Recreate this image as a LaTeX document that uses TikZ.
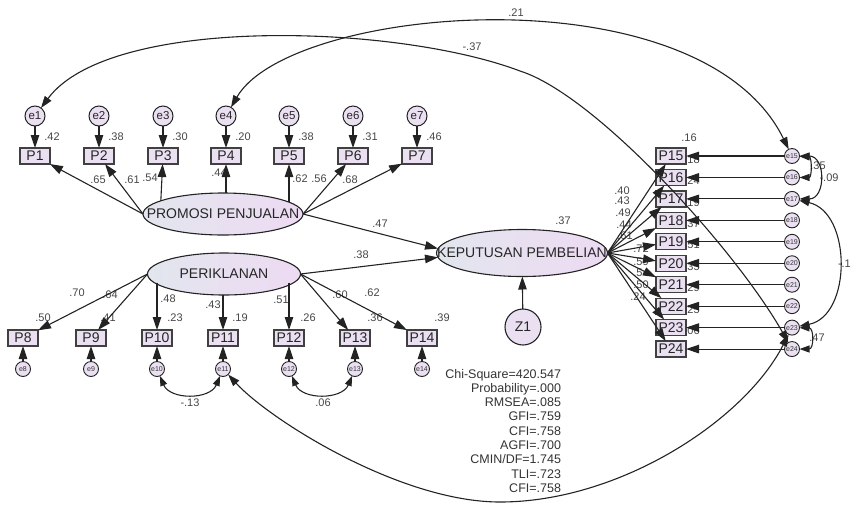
\documentclass[tikz,border=0pt]{standalone}
\usepackage{fontspec}
\setmainfont{Liberation Sans}
\usetikzlibrary{arrows.meta,shapes.geometric}
\definecolor{boxfill}{RGB}{234,224,242}
\definecolor{linegray}{RGB}{35,35,35}
\definecolor{numgray}{RGB}{70,70,70}
\definecolor{latleft}{RGB}{226,230,238}
\definecolor{latright}{RGB}{238,218,243}

\begin{document}
\begin{tikzpicture}[x=1pt,y=-1pt,
  every node/.style={inner sep=0pt, outer sep=0pt},
  obs/.style={draw=black!75, line width=1.3pt, fill=boxfill, minimum width=30pt,
    minimum height=16pt, font=\fontsize{14}{14}\selectfont, text=black!85},
  errbig/.style={circle, draw=linegray, line width=1pt, fill=boxfill,
    minimum size=20pt, font=\fontsize{11.5}{12}\selectfont, text=black!85},
  errsm/.style={circle, draw=linegray, line width=0.9pt, fill=boxfill,
    minimum size=15pt, font=\fontsize{7}{7}\selectfont, text=black!80},
  latlabel/.style={font=\fontsize{14}{14}\selectfont, text=black!85},
  lat/.style={ellipse, draw=linegray, line width=1.1pt, left color=latleft,
    right color=latright, label={[latlabel]center:#1}},
  numlbl/.style={font=\fontsize{11}{11}\selectfont, text=numgray},
  fitlbl/.style={align=right, font=\fontsize{12.5}{14.3}\selectfont, text=black!80},
  regpath/.style={draw=linegray, line width=1.1pt, -{Triangle[length=13pt,width=8.5pt]}},
  cov/.style={draw=linegray, line width=1.1pt,
    {Triangle[length=12pt,width=8pt]}-{Triangle[length=12pt,width=8pt]}},
  covsm/.style={draw=linegray, line width=1.1pt,
    {Triangle[length=10pt,width=7pt]}-{Triangle[length=10pt,width=7pt]}},
  ]
\useasboundingbox (0,0) rectangle (851,504);

% ---- indicators of PROMOSI PENJUALAN with their errors
\foreach \i/\x in {1/35,2/99,3/163,4/226,5/289,6/353,7/417} {
  \node[errbig] (e\i) at (\x,116) {e\i};
  \node[obs] (P\i) at (\x,156) {P\i};
}
% ---- indicators of PERIKLANAN with their errors
\foreach \i/\x in {8/23,9/91,10/157,11/223,12/289,13/355,14/422} {
  \node[obs] (P\i) at (\x,338) {P\i};
  \node[errsm] (e\i) at (\x,369) {e\i};
}
% ---- indicators of KEPUTUSAN PEMBELIAN with their errors
\foreach \i in {15,...,24} {
  \pgfmathsetmacro\yy{156+21.45*(\i-15)}
  \node[obs] (P\i) at (671,\yy) {P\i};
  \node[errsm] (e\i) at (792,\yy) {e\i};
}

% ---- latent variables
\node[lat=PROMOSI PENJUALAN, minimum width=160pt, minimum height=42pt] (PJ) at (223,214) {};
\node[lat=PERIKLANAN, minimum width=153pt, minimum height=42pt] (PK) at (224,274) {};
\node[lat=KEPUTUSAN PEMBELIAN, minimum width=171pt, minimum height=47pt] (KP) at (522,253) {};
\node[circle, draw=linegray, line width=1.1pt, fill=boxfill, minimum size=36pt,
  font=\fontsize{14}{14}\selectfont, text=black!85] (Z1) at (523,327) {Z1};

% ---- squared multiple correlations
\foreach \x/\t in {52/.42,116/.38,180/.30,243/.20,306/.38,370/.31,434/.46}
  \node[numlbl] at (\x,137) {\t};
\foreach \x/\t in {43/.50,108/.41,175/.23,240/.19,308/.26,375/.36,442/.39}
  \node[numlbl] at (\x,318) {\t};
\node[numlbl] at (689,138) {.16};
\foreach \i/\t in {16/.18,17/.24,18/.19,19/.37,20/.51,21/.35,22/.29,23/.25,24/.06} {
  \pgfmathsetmacro\yy{156+21.45*(\i-15)-18}
  \node[numlbl] at (692,\yy) {\t};
}
\node[numlbl] at (563,221) {.37};

% ---- loadings
\foreach \x/\y/\t in {98/180/.65,132/180/.61,150/178/.54,219/173/.44,300/179/.62,319/179/.56,350/180/.68}
  \node[numlbl] at (\x,\y) {\t};
\foreach \x/\y/\t in {77/293/.70,110/295/.64,168/299/.48,213/305/.43,281/300/.51,340/295/.60,372/293/.62}
  \node[numlbl] at (\x,\y) {\t};
\foreach \x/\y/\t in {622/191/.40,622/201/.43,623/213/.49,624/225/.44,625/236/.61,641/249/.72,641/262/.59,641/273/.54,641/285/.50,638/297/.24}
  \node[numlbl] at (\x,\y) {\t};
\node[numlbl] at (380,224) {.47};
\node[numlbl] at (361,255) {.38};

% ---- covariance labels
\node[numlbl] at (516,13) {.21};
\node[numlbl] at (472,47) {-.37};
\node[numlbl] at (190,403) {-.13};
\node[numlbl] at (323,403) {.06};
\node[numlbl] at (818,166) {.35};
\node[numlbl] at (829,178) {-.09};
\node[numlbl, anchor=west] at (838,264) {-.1};
\node[numlbl] at (817,338) {.47};

% ---- fit statistics
\node[fitlbl, anchor=north east] (fit) at (561,369)
  {Chi-Square=420.547\\Probability=.000\\RMSEA=.085\\GFI=.759\\CFI=.758\\AGFI=.700\\CMIN/DF=1.745\\TLI=.723\\CFI=.758};

% ---- error paths
\foreach \i in {1,...,24}
  \draw[regpath] (e\i) -- (P\i);

% ---- loadings of PROMOSI PENJUALAN
\draw[regpath] (PJ.west) -- (P1);
\draw[regpath] (PJ.west) -- (P2);
\draw[regpath] (PJ.168) -- (P3);
\draw[regpath] (PJ.north -| P4) -- (P4);
\draw[regpath] (PJ.10 -| P5) -- (P5);
\draw[regpath] (PJ.east) -- (P6);
\draw[regpath] (PJ.east) -- (P7);

% ---- loadings of PERIKLANAN
\draw[regpath] (PK.west) -- (P8);
\draw[regpath] (PK.west) -- (P9);
\draw[regpath] (PK.187 -| P10) -- (P10);
\draw[regpath] (PK.south -| P11) -- (P11);
\draw[regpath] (PK.353 -| P12) -- (P12);
\draw[regpath] (PK.east) -- (P13);
\draw[regpath] (PK.east) -- (P14);

% ---- loadings of KEPUTUSAN PEMBELIAN
\foreach \i in {15,...,24}
  \draw[regpath] (KP.east) -- (P\i);

% ---- structural paths
\draw[regpath] (PJ.east) -- (KP.177);
\draw[regpath] (PK.east) -- (KP.183);
\draw[regpath] (Z1) -- (KP);

% ---- error covariances
\draw[cov] (e4) .. controls (290,5) and (700,-31) .. (e15);
\coordinate (m37) at (520,71);
\draw[cov] (e1) .. controls (110,15) and (396,24) .. (m37)
  .. controls (596,95) and (736,250) .. (e24);
\coordinate (mbot) at (500,502);
\draw[cov] (e11) .. controls (270,420) and (400,502) .. (mbot)
  .. controls (620,502) and (745,420) .. (e23);
\draw[covsm] (e10) .. controls (170,400) and (210,400) .. (e11);
\draw[covsm] (e12) .. controls (302,400) and (342,400) .. (e13);
\draw[covsm] (e15) .. controls (812,157) and (812,177.5) .. (e16);
\draw[covsm] (e15) .. controls (826,156) and (826,199) .. (e17);
\draw[covsm] (e17) .. controls (852,212) and (852,316) .. (e23);
\draw[covsm] (e23) .. controls (814,328) and (814,349) .. (e24);
\end{tikzpicture}
\end{document}
